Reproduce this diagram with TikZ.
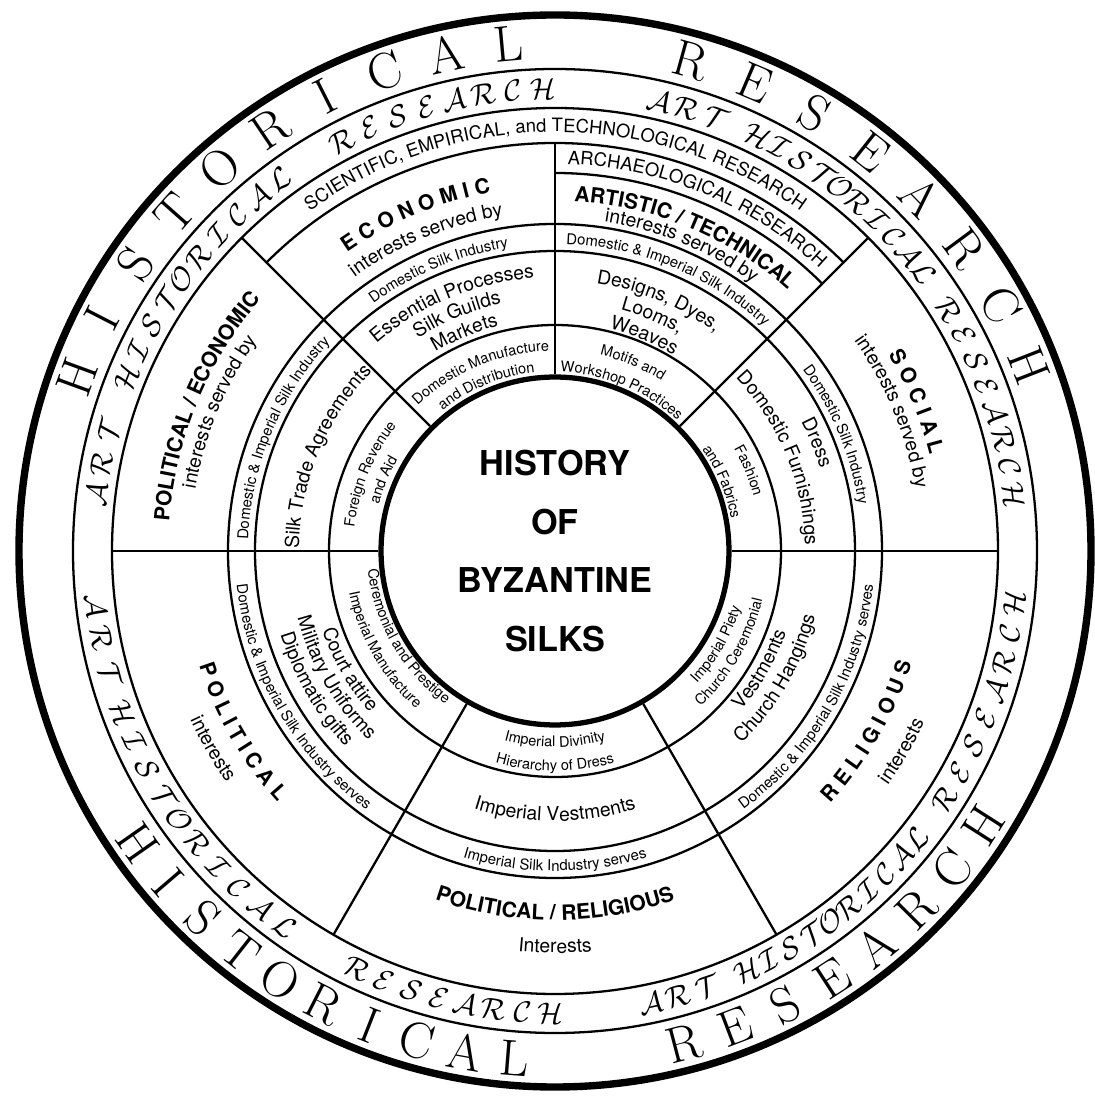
\documentclass[tikz,border=0pt]{standalone}
\usepackage{fontspec}
\setsansfont{TeX Gyre Heros}
\usetikzlibrary{decorations.text}

\font\artcal=cmsy10 at 17pt
\newcommand{\fband}{\sffamily\fontsize{8.5}{10}\selectfont}
\newcommand{\fsmall}{\sffamily\fontsize{8.3}{10}\selectfont}
\newcommand{\fmid}{\sffamily\fontsize{11}{13}\selectfont}
\newcommand{\fhead}{\sffamily\bfseries\fontsize{12}{14}\selectfont}
\newcommand{\fres}{\sffamily\fontsize{10.5}{12}\selectfont}

\newcommand{\arclabel}[4]{%
  \path[decorate, decoration={text along path, text align=center, text={#4}}]
    (#2:#1) arc[start angle=#2, end angle=#3, radius=#1];}

\newcommand{\ringword}[7]{%
  \foreach \ch [count=\k from 0] in {#7}
    \node[#1, rotate=#4+\k*#5+#6] (#2\k) at ({#4+\k*#5}:#3) {\ch};}

\begin{document}
\begin{tikzpicture}[x=0.02cm, y=0.02cm,
  every node/.style={inner sep=0pt},
  ring/.style={line width=1.3pt},
  hub/.style={line width=3pt},
  rim/.style={line width=4.2pt},
  romanletter/.style={font=\fontsize{29}{29}\selectfont},
  calletter/.style={font=\artcal}]
  \useasboundingbox (-555,-546) rectangle (539,551);

  \node[circle, draw, hub, minimum size=6.96cm, align=center, font=\sffamily\bfseries\fontsize{19.5}{33.5}\selectfont] (core) at (0,0) {HISTORY\\OF\\BYZANTINE\\SILKS};

  \draw[ring] (0,0) circle (226) (0,0) circle (300) (0,0) circle (327) (0,0) circle (443) (0,0) circle (482);
  \draw[rim] (0,0) circle (536);
  \draw[ring] (45:408) arc[start angle=45, end angle=135, radius=408];
  \draw[ring] (45:378) arc[start angle=45, end angle=90, radius=378];
  \foreach \a in {0,45,135,180,240,300}
    \draw[ring] (core.\a) -- (\a:443);
  \draw[ring] (core.90) -- (90:408);

  \ringword{romanletter}{tophis}{509}{160}{-7.2}{-90}{H,I,S,T,O,R,I,C,A,L}
  \ringword{romanletter}{topres}{509}{74.5}{-7.6}{-90}{R,E,S,E,A,R,C,H}
  \ringword{romanletter}{bothis}{509}{215}{5.6}{90}{H,I,S,T,O,R,I,C,A,L}
  \ringword{romanletter}{botres}{509}{284.7}{6.1}{90}{R,E,S,E,A,R,C,H}

  \ringword{calletter}{tlart}{462}{173}{-3.8}{-90}{A,R,T}
  \ringword{calletter}{tlhis}{462}{158}{-3.5}{-90}{H,I,S,T,O,R,I,C,A,L}
  \ringword{calletter}{tlres}{462}{117.5}{-3.71}{-90}{R,E,S,E,A,R,C,H}
  \ringword{calletter}{trart}{462}{77}{-3.5}{-90}{A,R,T}
  \ringword{calletter}{trhis}{462}{64}{-3.0}{-90}{H,I,S,T,O,R,I,C,A,L}
  \ringword{calletter}{trres}{462}{31.5}{-3.5}{-90}{R,E,S,E,A,R,C,H}
  \ringword{calletter}{blart}{462}{186.8}{4.1}{90}{A,R,T}
  \ringword{calletter}{blhis}{462}{200.5}{3.75}{90}{H,I,S,T,O,R,I,C,A,L}
  \ringword{calletter}{blres}{462}{244.6}{3.55}{90}{R,E,S,E,A,R,C,H}
  \ringword{calletter}{brart}{462}{282}{3.4}{90}{A,R,T}
  \ringword{calletter}{brhis}{462}{294.5}{3.0}{90}{H,I,S,T,O,R,I,C,A,L}
  \ringword{calletter}{brres}{462}{327.5}{3.7}{90}{R,E,S,E,A,R,C,H}

  \arclabel{419}{135}{45}{|\fres|SCIENTIFIC, EMPIRICAL, and TECHNOLOGICAL RESEARCH}
  \arclabel{387}{90}{45}{|\fres|ARCHAEOLOGICAL RESEARCH}

  \arclabel{364}{135}{90}{|\fhead|E C O N O M I C}
  \arclabel{339}{135}{90}{|\fmid|interests served by}
  \arclabel{307}{135}{90}{|\fband|Domestic Silk Industry}
  \arclabel{274}{135}{90}{|\fmid|Essential Processes}
  \arclabel{253}{135}{90}{|\fmid|Silk Guilds}
  \arclabel{232}{135}{90}{|\fmid|Markets}
  \arclabel{200}{135}{90}{|\fsmall|Domestic Manufacture}
  \arclabel{180}{135}{90}{|\fsmall|and Distribution}

  \arclabel{350}{90}{45}{|\fhead|ARTISTIC / TECHNICAL}
  \arclabel{333}{90}{45}{|\fmid|interests served by}
  \arclabel{307}{90}{45}{|\fband|Domestic {\&} Imperial Silk Industry}
  \arclabel{271}{90}{45}{|\fmid|Designs, Dyes,}
  \arclabel{250}{90}{45}{|\fmid|Looms,}
  \arclabel{229}{90}{45}{|\fmid|Weaves}
  \arclabel{201}{90}{45}{|\fsmall|Motifs and}
  \arclabel{179}{90}{45}{|\fsmall|Workshop Practices}

  \arclabel{387}{45}{0}{|\fhead|S O C I A L}
  \arclabel{366}{45}{0}{|\fmid|interests served by}
  \arclabel{307}{45}{0}{|\fband|Domestic Silk Industry}
  \arclabel{278}{45}{0}{|\fmid|Dress}
  \arclabel{250}{45}{0}{|\fmid|Domestic Furnishings}
  \arclabel{206}{45}{0}{|\fsmall|Fashion}
  \arclabel{179}{45}{0}{|\fsmall|and Fabrics}

  \arclabel{387}{180}{135}{|\fhead|POLITICAL / ECONOMIC}
  \arclabel{365}{180}{135}{|\fmid|interests served by}
  \arclabel{307}{180}{135}{|\fband|Domestic {\&} Imperial Silk Industry}
  \arclabel{256}{180}{135}{|\fmid|Silk Trade Agreements}
  \arclabel{202}{180}{135}{|\fsmall|Foreign Revenue}
  \arclabel{182}{180}{135}{|\fsmall|and Aid}

  \arclabel{188}{180}{240}{|\fsmall|Ceremonial and Prestige}
  \arclabel{210}{180}{240}{|\fsmall|Imperial Manufacture}
  \arclabel{246}{180}{240}{|\fmid|Court attire}
  \arclabel{266}{180}{240}{|\fmid|Military Uniforms}
  \arclabel{287}{180}{240}{|\fmid|Diplomatic gifts}
  \arclabel{320}{180}{240}{|\fband|Domestic {\&} Imperial Silk Industry serves}
  \arclabel{374}{180}{240}{|\fhead|P O L I T I C A L}
  \arclabel{402}{180}{240}{|\fmid|interests}

  \arclabel{196}{240}{300}{|\fsmall|Imperial Divinity}
  \arclabel{220}{240}{300}{|\fsmall|Hierarchy of Dress}
  \arclabel{270}{240}{300}{|\fmid|Imperial Vestments}
  \arclabel{320}{240}{300}{|\fband|Imperial Silk Industry serves}
  \arclabel{369}{240}{300}{|\fhead|POLITICAL / RELIGIOUS}
  \arclabel{402}{240}{300}{|\fmid|Interests}

  \arclabel{194}{300}{360}{|\fsmall|Imperial Piety}
  \arclabel{213}{300}{360}{|\fsmall|Church Ceremonial}
  \arclabel{245}{300}{360}{|\fmid|Vestments}
  \arclabel{268}{300}{360}{|\fmid|Church Hangings}
  \arclabel{320}{300}{360}{|\fband|Domestic {\&} Imperial Silk Industry serves}
  \arclabel{374}{300}{360}{|\fhead|R E L I G I O U S}
  \arclabel{407}{300}{360}{|\fmid|interests}
\end{tikzpicture}
\end{document}
